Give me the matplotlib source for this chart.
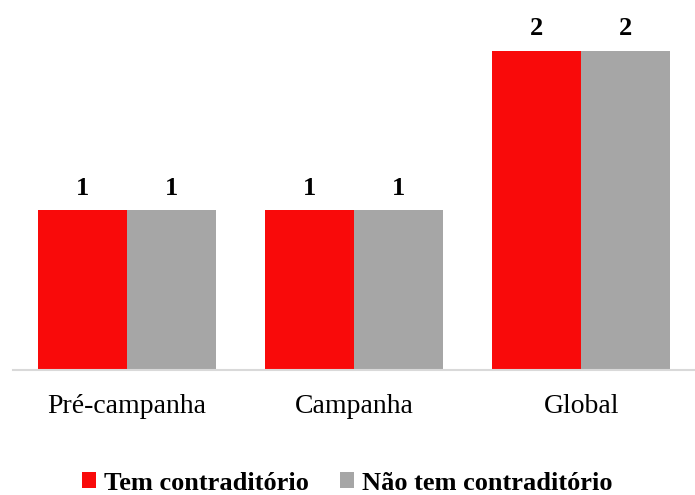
import matplotlib.pyplot as plt
import numpy as np

categories = ['Pré-campanha', 'Campanha', 'Global']
tem = [1, 1, 2]
nao_tem = [1, 1, 2]
series_labels = ['Tem contraditório', 'Não tem contraditório']

plt.rcParams['font.family'] = 'Liberation Serif'

fig = plt.figure(figsize=(6.95, 4.95), dpi=100)
ax = fig.add_axes([13/695, 125/495, 682/695, 2.3*159.5/495])

x = np.arange(len(categories))
w = 0.392
b1 = ax.bar(x - w/2, tem, w, color='#F90A0A', label=series_labels[0])
b2 = ax.bar(x + w/2, nao_tem, w, color='#A6A6A6', label=series_labels[1])

for bars in (b1, b2):
    for r in bars:
        ax.annotate(f'{r.get_height():.0f}', (r.get_x() + r.get_width()/2, r.get_height()),
                    xytext=(0, 16), textcoords='offset points', ha='center', va='center',
                    fontsize=19, fontweight='bold')

ax.set_xlim(-0.502, 2.5)
ax.set_ylim(0, 2.3)
ax.set_xticks(x)
ax.set_xticklabels(categories, fontsize=20)
ax.tick_params(axis='x', length=0, pad=17)
ax.set_yticks([])
for s in ['top', 'right', 'left']:
    ax.spines[s].set_visible(False)
ax.spines['bottom'].set_color('#D9D9D9')
ax.spines['bottom'].set_linewidth(1.5)

fig.legend(loc='center', bbox_to_anchor=(347/695, 12/495), ncol=2, frameon=False,
           prop={'size': 19, 'weight': 'bold'}, handlelength=0.53, handleheight=0.53,
           handletextpad=0.3, columnspacing=1.17, borderpad=0.2)

fig.savefig('out.png', dpi=100)
